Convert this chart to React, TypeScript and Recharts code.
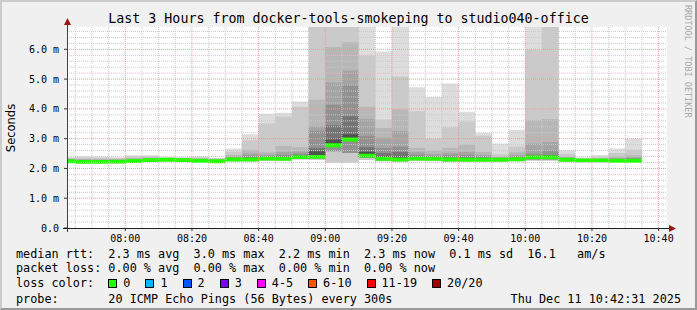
import React from 'react';
import { ComposedChart, Area, XAxis, YAxis, ReferenceLine, CartesianGrid } from 'recharts';

// 5-minute bins (first one is the partial bin at the window start)
const binStart = [
  '07:42:31', '07:45', '07:50', '07:55', '08:00', '08:05', '08:10', '08:15', '08:20', '08:25',
  '08:30', '08:35', '08:40', '08:45', '08:50', '08:55', '09:00', '09:05', '09:10', '09:15',
  '09:20', '09:25', '09:30', '09:35', '09:40', '09:45', '09:50', '09:55', '10:00', '10:05',
  '10:10', '10:15', '10:20', '10:25', '10:30',
];
const lastBinEnd = '10:35';
const windowStart = '07:42:31';
const windowEnd = '10:42:31';
const timeTicks = ['08:00', '08:20', '08:40', '09:00', '09:20', '09:40', '10:00', '10:20', '10:40'];
const yTicks = [0, 1, 2, 3, 4, 5, 6];

// median rtt (ms)
const median = [
  2.24, 2.22, 2.22, 2.23, 2.25, 2.28, 2.29, 2.28, 2.26, 2.24,
  2.30, 2.30, 2.33, 2.32, 2.38, 2.39, 2.78, 2.97, 2.43, 2.32,
  2.30, 2.33, 2.32, 2.30, 2.29, 2.29, 2.29, 2.31, 2.37, 2.37,
  2.29, 2.27, 2.27, 2.26, 2.26,
];
// smoke: sorted ping quantiles (ms)
const pMin = [
  2.19, 2.18, 2.18, 2.17, 2.20, 2.23, 2.25, 2.24, 2.20, 2.20,
  2.24, 2.24, 2.25, 2.25, 2.30, 2.28, 2.20, 2.20, 2.28, 2.24,
  2.22, 2.25, 2.24, 2.22, 2.23, 2.23, 2.23, 2.24, 2.26, 2.26,
  2.22, 2.21, 2.21, 2.20, 2.20,
];
const pLow = [
  2.22, 2.20, 2.20, 2.21, 2.23, 2.26, 2.27, 2.26, 2.24, 2.22,
  2.27, 2.27, 2.29, 2.28, 2.34, 2.33, 2.58, 2.52, 2.35, 2.27,
  2.26, 2.29, 2.28, 2.26, 2.26, 2.26, 2.26, 2.27, 2.30, 2.30,
  2.25, 2.24, 2.24, 2.23, 2.23,
];
const p20 = [
  2.38, 2.41, 2.40, 2.38, 2.44, 2.44, 2.38, 2.38, 2.40, 2.36,
  2.67, 3.15, 3.84, 3.87, 4.25, 7.0, 7.0, 7.0, 7.0, 5.93,
  7.0, 4.73, 4.40, 4.85, 3.90, 3.19, 2.84, 3.30, 7.0, 7.0,
  2.61, 2.38, 2.45, 2.67, 3.00,
];
const p19 = [
  2.36, 2.37, 2.36, 2.35, 2.40, 2.41, 2.36, 2.36, 2.37, 2.34,
  2.56, 2.95, 3.51, 3.74, 4.07, 7.0, 7.0, 7.0, 5.79, 3.64,
  5.09, 3.92, 3.00, 3.38, 3.58, 3.10, 2.48, 2.74, 5.99, 7.0,
  2.49, 2.34, 2.38, 2.52, 2.63,
];
const p18 = [
  2.33, 2.32, 2.31, 2.31, 2.35, 2.37, 2.34, 2.34, 2.33, 2.31,
  2.45, 2.63, 2.54, 2.75, 2.71, 4.31, 6.08, 6.24, 4.07, 3.36,
  3.98, 2.69, 2.60, 2.69, 2.80, 2.55, 2.40, 2.54, 3.62, 3.66,
  2.40, 2.32, 2.34, 2.40, 2.45,
];
const p17 = [
  2.31, 2.30, 2.29, 2.29, 2.32, 2.34, 2.33, 2.32, 2.31, 2.29,
  2.40, 2.50, 2.47, 2.55, 2.57, 3.42, 4.89, 5.29, 3.66, 3.03,
  3.25, 2.55, 2.48, 2.52, 2.55, 2.45, 2.37, 2.45, 2.83, 2.88,
  2.36, 2.31, 2.32, 2.35, 2.38,
];
const p16 = [
  2.30, 2.28, 2.27, 2.27, 2.30, 2.32, 2.32, 2.31, 2.29, 2.28,
  2.37, 2.43, 2.42, 2.46, 2.50, 3.27, 4.14, 4.79, 3.10, 2.69,
  2.74, 2.47, 2.42, 2.44, 2.45, 2.40, 2.35, 2.40, 2.50, 2.60,
  2.34, 2.30, 2.30, 2.32, 2.34,
];
const p14 = [
  2.28, 2.26, 2.25, 2.26, 2.28, 2.31, 2.31, 2.30, 2.28, 2.26,
  2.34, 2.37, 2.37, 2.40, 2.44, 2.69, 3.44, 3.75, 2.71, 2.52,
  2.55, 2.40, 2.37, 2.37, 2.37, 2.35, 2.32, 2.35, 2.42, 2.45,
  2.32, 2.29, 2.29, 2.29, 2.30,
];
const p12 = [
  2.26, 2.24, 2.24, 2.25, 2.27, 2.30, 2.30, 2.29, 2.27, 2.25,
  2.32, 2.33, 2.35, 2.36, 2.41, 2.58, 2.97, 3.15, 2.55, 2.40,
  2.40, 2.37, 2.35, 2.33, 2.33, 2.32, 2.31, 2.33, 2.40, 2.41,
  2.31, 2.28, 2.28, 2.28, 2.28,
];

const lossLegend = [
  { label: '0', color: '#26ff00' },
  { label: '1', color: '#00b8ff' },
  { label: '2', color: '#0059ff' },
  { label: '3', color: '#7e00ff' },
  { label: '4-5', color: '#ff00ff' },
  { label: '6-10', color: '#ff5500' },
  { label: '11-19', color: '#ff0000' },
  { label: '20/20', color: '#a10000' },
];

const toMin = (s: string) => {
  const [h, m, sec] = s.split(':').map(Number);
  return (h - 7) * 60 + m + (sec || 0) / 60;
};

const rows = binStart.map((t, i) => ({
  t: toMin(t),
  median: median[i], pMin: pMin[i], pLow: pLow[i],
  p20: p20[i], p19: p19[i], p18: p18[i], p17: p17[i], p16: p16[i], p14: p14[i], p12: p12[i],
}));
// close the last step
rows.push({ ...rows[rows.length - 1], t: toMin(lastBinEnd) });

// outer (light) to inner (dark)
const bands = [
  { hi: 'p20', lo: 'pMin', fill: '#dddddd' },
  { hi: 'p19', lo: 'pMin', fill: '#cacaca' },
  { hi: 'p18', lo: 'pLow', fill: '#b7b7b7' },
  { hi: 'p17', lo: 'pLow', fill: '#a4a4a4' },
  { hi: 'p16', lo: 'pLow', fill: '#919191' },
  { hi: 'p14', lo: 'median', fill: '#747474' },
  { hi: 'p12', lo: 'median', fill: '#505050' },
];

const x0 = toMin(windowStart);
const x1 = toMin(windowEnd);
const tickMins = timeTicks.map(toMin);

const vMinor: number[] = [];
for (let m = 45; m < x1; m += 5) if (m % 20 !== 0) vMinor.push(m);
const hMinor: number[] = [];
for (let k = 1; k <= 33; k++) if (k % 5 !== 0) hMinor.push(k / 5);

const mono = '"DejaVu Sans Mono", monospace';
const fmtTime = (v: number) => {
  const h = Math.floor(v / 60) + 7;
  const m = Math.round(v % 60);
  return `${String(h).padStart(2, '0')}:${String(m).padStart(2, '0')}`;
};

const legendRow: React.CSSProperties = {
  position: 'absolute', left: 16, fontFamily: mono, fontSize: 11.8, lineHeight: '14px',
  whiteSpace: 'pre', color: '#000',
};

export default function App() {
  return (
    <div style={{ position: 'absolute', left: 0, top: 0, width: 697, height: 310, background: '#f0f0f0', overflow: 'hidden' }}>
      <ComposedChart width={697} height={310} data={rows} margin={{ top: 27, right: 30, bottom: 62, left: 0 }}>
        <CartesianGrid fill="#ffffff" horizontal={false} vertical={false} />
        <XAxis
          type="number" dataKey="t" domain={[x0, x1]} allowDataOverflow ticks={tickMins} interval={0}
          tickFormatter={fmtTime} axisLine={false} tickLine={{ stroke: '#333' }} tickSize={3} tickMargin={4}
          height={20} tick={{ fontSize: 10, fontFamily: mono, fill: '#000' }}
        />
        <YAxis
          type="number" domain={[0, 6.75]} allowDataOverflow ticks={yTicks} interval={0}
          tickFormatter={(v: number) => (v === 0 ? '0.0' : `${v.toFixed(1)} m`)}
          axisLine={false} tickLine={{ stroke: '#333' }} tickSize={3} tickMargin={5} width={67}
          tick={{ fontSize: 10, fontFamily: mono, fill: '#000' }}
        />
        {bands.map((b) => (
          <Area
            key={b.hi} type="stepAfter" dataKey={(d: any) => [d[b.lo], d[b.hi]]}
            fill={b.fill} fillOpacity={1} stroke="none" dot={false} activeDot={false} isAnimationActive={false}
          />
        ))}
        {vMinor.map((m) => (
          <ReferenceLine key={`vm${m}`} x={m} stroke="#c8c8c8" strokeDasharray="1 1" />
        ))}
        {hMinor.map((v) => (
          <ReferenceLine key={`hm${v}`} y={v} stroke="#c8c8c8" strokeDasharray="1 1" />
        ))}
        {tickMins.map((m) => (
          <ReferenceLine key={`vM${m}`} x={m} stroke="#ee9a9a" strokeDasharray="1 1" />
        ))}
        {yTicks.filter((v) => v > 0).map((v) => (
          <ReferenceLine key={`hM${v}`} y={v} stroke="#ee9a9a" strokeDasharray="1 1" />
        ))}
        <Area
          type="stepAfter" dataKey={(d: any) => [d.median - 0.065, d.median + 0.065]}
          fill="#26ff00" fillOpacity={1} stroke="none" dot={false} activeDot={false} isAnimationActive={false}
        />
      </ComposedChart>

      {/* axes with arrows */}
      <svg width={697} height={310} style={{ position: 'absolute', left: 0, top: 0, pointerEvents: 'none' }}>
        <line x1={67.5} y1={232} x2={67.5} y2={22} stroke="#404040" strokeWidth={1} />
        <line x1={63} y1={228.5} x2={671} y2={228.5} stroke="#202020" strokeWidth={1} />
        <polygon points="64,25 71,25 67.5,18" fill="#9a1515" />
        <polygon points="669,225 669,232 676,228.5" fill="#9a1515" />
      </svg>

      <div style={{ position: 'absolute', left: 0, top: 12, width: 697, textAlign: 'center', fontFamily: mono, fontSize: 13.3, lineHeight: '14px', color: '#000' }}>
        Last 3 Hours from docker-tools-smokeping to studio040-office
      </div>
      <div style={{ position: 'absolute', left: 11, top: 128, transform: 'translate(-50%, -50%) rotate(-90deg)', fontFamily: '"DejaVu Sans", sans-serif', fontSize: 11.5, whiteSpace: 'nowrap', color: '#000' }}>
        Seconds
      </div>
      <div style={{ position: 'absolute', left: 683, top: 5, writingMode: 'vertical-rl', fontFamily: mono, fontSize: 8.5, color: '#a8a8a8', whiteSpace: 'nowrap' }}>
        RRDTOOL / TOBI OETIKER
      </div>

      <div style={{ ...legendRow, top: 247 }}>median rtt:  2.3 ms avg  3.0 ms max  2.2 ms min  2.3 ms now  0.1 ms sd  16.1   am/s</div>
      <div style={{ ...legendRow, top: 261 }}>packet loss: 0.00 % avg  0.00 % max  0.00 % min  0.00 % now</div>
      <div style={{ ...legendRow, top: 276, display: 'flex', alignItems: 'center' }}>
        <span>loss color:  </span>
        {lossLegend.map((l) => (
          <span key={l.label} style={{ display: 'inline-flex', alignItems: 'center', marginRight: 15 }}>
            <span style={{ width: 7, height: 7, background: l.color, border: '1px solid #000', marginRight: 6, display: 'inline-block' }} />
            {l.label}
          </span>
        ))}
      </div>
      <div style={{ ...legendRow, top: 292 }}>probe:       20 ICMP Echo Pings (56 Bytes) every 300s</div>
      <div style={{ ...legendRow, top: 292, left: 'auto', right: 16 }}>Thu Dec 11 10:42:31 2025</div>

      <div style={{ position: 'absolute', left: 0, top: 0, width: 697, height: 310, boxSizing: 'border-box', borderTop: '2px solid #cbcbcb', borderLeft: '2px solid #cbcbcb', borderBottom: '2px solid #999999', borderRight: '2px solid #999999', pointerEvents: 'none' }} />
    </div>
  );
}
